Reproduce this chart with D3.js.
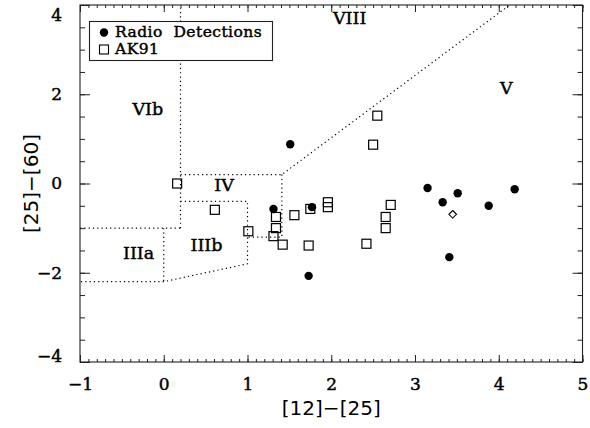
<!DOCTYPE html>
<html><head><meta charset="utf-8">
<script src="https://cdn.jsdelivr.net/npm/d3@7"></script>
<style>body{margin:0;background:#fff}svg{display:block}</style>
</head><body><div id="chart"></div>
<script>
// ---- data ----
const radioX = [1.51, 1.31, 1.77, 1.73, 3.15, 3.51, 3.33, 4.19, 3.88, 3.41];
const radioY = [0.88, -0.57, -0.53, -2.07, -0.10, -0.22, -0.42, -0.13, -0.50, -1.65];
const ak91X = [0.16, 0.61, 1.01, 1.31, 1.34, 1.34, 1.42, 1.56, 1.75, 1.73, 1.96, 1.96, 2.42, 2.50, 2.55, 2.65, 2.65, 2.71];
const ak91Y = [0.00, -0.59, -1.07, -1.18, -1.00, -0.75, -1.37, -0.71, -0.57, -1.39, -0.42, -0.53, -1.35, 0.87, 1.52, -1.00, -0.75, -0.48];
const diamondX = [3.45];
const diamondY = [-0.69];
const xTicks = [-1, 0, 1, 2, 3, 4, 5];
const yTicks = [-4, -2, 0, 2, 4];
// region boundaries (polylines, data coords)
const boundaries = [
  [[-1, -1.0], [0.2, -1.0]],
  [[0.2, -1.0], [0.2, 4]],
  [[0.2, 0.2], [1.41, 0.2], [4.13, 4]],
  [[1.41, 0.2], [1.41, -1.2], [1.0, -1.2]],
  [[0.2, -0.4], [1.0, -0.4], [1.0, -1.8], [0.0, -2.2], [-1, -2.2]],
  [[0.0, -1.0], [0.0, -2.2]]
];
const regionNames = ["VIII", "V", "VIb", "IV", "IIIa", "IIIb"];
const regionX = [2.22, 4.09, -0.19, 0.72, -0.30, 0.51];
const regionY = [3.71, 2.14, 1.66, -0.04, -1.55, -1.37];
const legendLabels = ["Radio Detections", "AK91"];

// ---- layout ----
const W = 590, H = 428;
const L = 80, R = 582.5, T = 5, B = 362;
const x = d3.scaleLinear().domain([-1, 5]).range([L, R]);
const y = d3.scaleLinear().domain([-4, 4]).range([B, T]);
const svg = d3.select("#chart").append("svg").attr("width", W).attr("height", H);
const serif = "'DejaVu Serif', serif";
const fmt = d => (d < 0 ? "\u2212" + Math.abs(d) : String(d));
function heavy(sel) { return sel.attr("stroke", "#000").attr("stroke-width", 0.45).attr("fill", "#000"); }

// region boundaries
const line = d3.line().x(d => x(d[0])).y(d => y(d[1]));
svg.append("g").selectAll("path").data(boundaries).join("path")
  .attr("d", line).attr("fill", "none").attr("stroke", "#000")
  .attr("stroke-width", 1.2).attr("stroke-dasharray", "1.2,3.1");

// axes (ticks on all sides)
function axisG(axis, tx, ty) {
  const g = svg.append("g").attr("transform", `translate(${tx},${ty})`).call(axis);
  g.select(".domain").remove();
  g.selectAll("line").attr("stroke", "#222");
  return g;
}
const xMinor = d3.range(-1, 5.0001, 0.1).map(v => +v.toFixed(2));
const yMinor = d3.range(-4, 4.0001, 0.5);
axisG(d3.axisBottom(x).tickValues(xMinor).tickSize(-3).tickFormat(""), 0, B);
axisG(d3.axisTop(x).tickValues(xMinor).tickSize(-3).tickFormat(""), 0, T);
axisG(d3.axisLeft(y).tickValues(yMinor).tickSize(-5).tickFormat(""), L, 0);
axisG(d3.axisRight(y).tickValues(yMinor).tickSize(-5).tickFormat(""), R, 0);
const gxb = axisG(d3.axisBottom(x).tickValues(xTicks).tickSize(-7).tickPadding(16).tickFormat(fmt), 0, B);
axisG(d3.axisTop(x).tickValues(xTicks).tickSize(-7).tickFormat(""), 0, T);
const gyl = axisG(d3.axisLeft(y).tickValues(yTicks).tickSize(-10).tickPadding(18).tickFormat(fmt), L, 0);
axisG(d3.axisRight(y).tickValues(yTicks).tickSize(-10).tickFormat(""), R, 0);
heavy(gxb.selectAll("text").attr("font-family", serif).attr("font-size", 17));
heavy(gyl.selectAll("text").attr("font-family", serif).attr("font-size", 17)
  .attr("dy", d => d === 4 ? "0.9em" : d === -4 ? "-0.05em" : "0.32em"));

// frame
svg.append("rect").attr("x", L).attr("y", T).attr("width", R - L).attr("height", B - T)
  .attr("fill", "none").attr("stroke", "#222").attr("stroke-width", 1.1);

// region labels
heavy(svg.append("g").selectAll("text").data(regionNames).join("text")
  .attr("x", (d, i) => x(regionX[i])).attr("y", (d, i) => y(regionY[i]))
  .attr("text-anchor", "middle").attr("dominant-baseline", "central")
  .attr("font-family", serif).attr("font-size", 17.5).text(d => d));

// data points
svg.append("g").selectAll("rect").data(ak91X).join("rect")
  .attr("x", (d, i) => x(d) - 4.5).attr("y", (d, i) => y(ak91Y[i]) - 4.5)
  .attr("width", 9).attr("height", 9)
  .attr("fill", "none").attr("stroke", "#000").attr("stroke-width", 1.2);
svg.append("g").selectAll("circle").data(radioX).join("circle")
  .attr("cx", d => x(d)).attr("cy", (d, i) => y(radioY[i])).attr("r", 4.2).attr("fill", "#000");
svg.append("g").selectAll("path").data(diamondX).join("path")
  .attr("transform", (d, i) => `translate(${x(d)},${y(diamondY[i])})`)
  .attr("d", "M0,-3.8L3.8,0L0,3.8L-3.8,0Z")
  .attr("fill", "none").attr("stroke", "#000").attr("stroke-width", 1.1);

// legend
const lg = svg.append("g");
lg.append("rect").attr("x", 89.5).attr("y", 21.5).attr("width", 183).attr("height", 39)
  .attr("fill", "#fff").attr("stroke", "#222").attr("stroke-width", 1.1);
lg.append("circle").attr("cx", 104).attr("cy", 32.5).attr("r", 4.2).attr("fill", "#000");
lg.append("rect").attr("x", 99.5).attr("y", 45).attr("width", 9).attr("height", 9)
  .attr("fill", "none").attr("stroke", "#000").attr("stroke-width", 1.1);
heavy(lg.selectAll("text").data(legendLabels).join("text")
  .attr("x", 115).attr("y", (d, i) => 37 + i * 17)
  .attr("font-family", serif).attr("font-size", 15.5).attr("letter-spacing", 0.45)
  .attr("xml:space", "preserve").style("white-space", "pre")
  .text(d => d.replace(" ", "  ")));

// axis titles
svg.append("text").attr("x", (L + R) / 2).attr("y", 415)
  .attr("text-anchor", "middle").attr("font-family", "'DejaVu Sans', sans-serif")
  .attr("font-size", 20).text("[12]\u2212[25]");
svg.append("text").attr("transform", `translate(38,${(T + B) / 2}) rotate(-90)`)
  .attr("text-anchor", "middle").attr("font-family", "'DejaVu Sans', sans-serif")
  .attr("font-size", 20).text("[25]\u2212[60]");
</script></body></html>
